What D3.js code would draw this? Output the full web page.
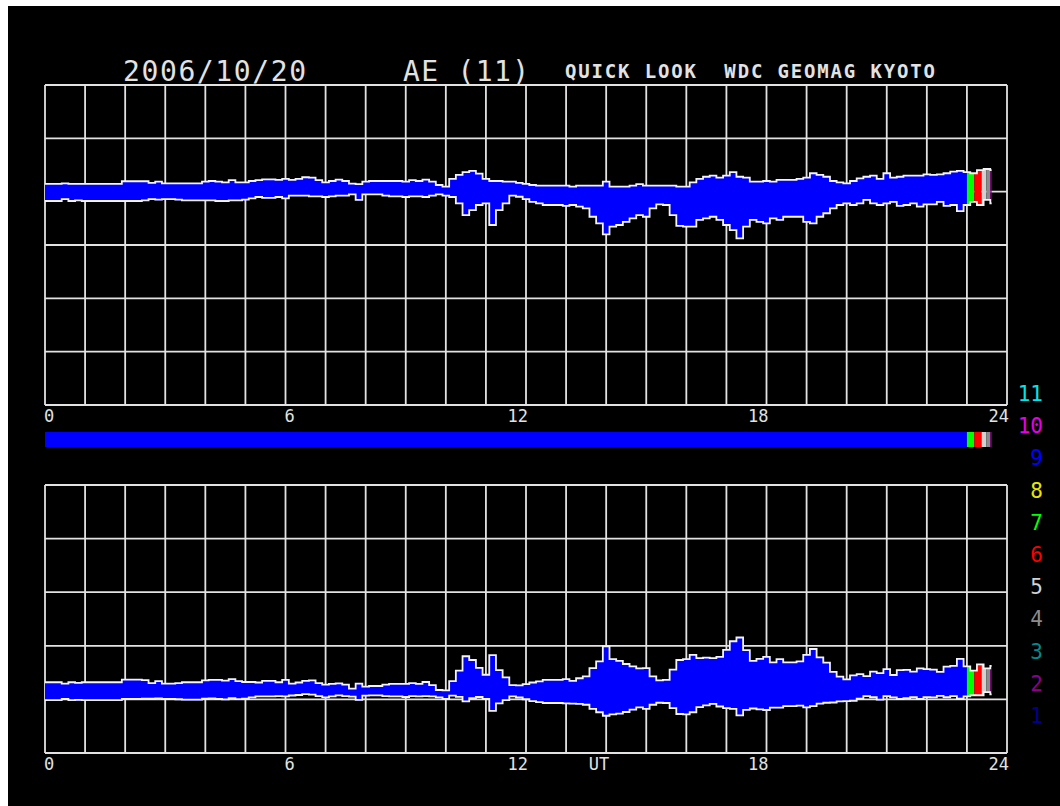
<!DOCTYPE html>
<html>
<head>
<meta charset="utf-8">
<script src="https://cdn.jsdelivr.net/npm/d3@7"></script>
<style>
  html, body { margin: 0; padding: 0; background: #fff; }
  svg { display: block; }
</style>
</head>
<body>
<svg id="chart" width="1060" height="806"></svg>
<script>
// AU / AL provisional values, 10-minute samples from 00:00 UT (nT)
const stepMinutes = 10;
const auValues = [
  29,29,29,31,29,29,  29,29,29,29,29,29,  39,39,39,39,33,38,  31,31,31,31,31,31,
  38,40,38,35,43,35,  35,40,43,46,46,44,  48,44,48,54,53,43,  35,40,45,40,30,28,
  38,40,40,40,40,40,  38,43,40,45,38,25,  19,48,63,73,78,68,  48,40,40,38,38,33,
  29,25,23,23,23,23,  23,19,23,23,23,23,  38,19,19,19,23,28,  23,23,23,23,23,19,
  19,35,48,56,60,53,  60,73,56,53,38,38,  40,38,44,44,44,48,  53,69,63,56,40,35,
  31,40,50,56,60,48,  69,53,56,60,60,60,  65,63,65,69,75,78,  73,69,81,85,81
];
const alValues = [
  -35,-35,-35,-28,-35,-33,  -35,-35,-35,-35,-35,-35,  -35,-35,-35,-33,-28,-30,  -28,-28,-30,-33,-33,-33,
  -33,-33,-35,-35,-33,-33,  -30,-25,-20,-23,-23,-20,  -25,-15,-15,-15,-18,-18,  -20,-18,-15,-15,-10,-31,
  -10,-10,-10,-15,-18,-18,  -20,-18,-18,-20,-15,-10,  -15,-20,-44,-88,-69,-50,  -44,-125,-69,-44,-15,-19,
  -28,-38,-44,-50,-50,-50,  -53,-50,-56,-63,-94,-119,  -160,-131,-125,-113,-100,-88,  -94,-63,-48,-50,-88,-128,
  -131,-131,-106,-100,-94,-106,  -125,-144,-175,-131,-106,-113,  -119,-100,-106,-94,-94,-94,  -113,-119,-94,-81,-63,-50,
  -44,-50,-44,-31,-44,-50,  -44,-38,-53,-50,-44,-56,  -48,-48,-38,-53,-50,-73,  -50,-38,-50,-31,-44
];

// Number of contributing stations over the day (minutes UT)
const coverageStart = [0, 1380, 1391, 1402, 1409, 1415];
const coverageEnd   = [1380, 1391, 1402, 1409, 1415, 1417];
const coverageCount = [9, 7, 6, 5, 4, 2];

// Station-count colour key, counts 1..11
const legendCounts = [11, 10, 9, 8, 7, 6, 5, 4, 3, 2, 1];
const countColors = ["#00008c", "#8c008c", "#008c8c", "#8c8c8c", "#d2d2d2",
                     "#ff0000", "#00ff00", "#e6e600", "#0000ff", "#e600e6", "#00e6e6"];

const hourTicks = [0, 6, 12, 18, 24];
const titleDate = "2006/10/20";
const titleIndex = "AE (11)";
const titleSource = "QUICK LOOK  WDC GEOMAG KYOTO";

// Derived indices: AE = AU - AL, AO = (AU + AL) / 2
const samples = auValues.map((au, i) => ({
  t: i * stepMinutes,
  au: au,
  al: alValues[i],
  ae: au - alValues[i],
  ao: (au + alValues[i]) / 2
}));

const svg = d3.select("#chart");
const mono = "'DejaVu Sans Mono', 'Liberation Mono', monospace";
const ink = "#e2e2e2";

svg.append("rect").attr("width", 1060).attr("height", 806).attr("fill", "#fff");
svg.append("rect").attr("x", 8).attr("y", 6).attr("width", 1052).attr("height", 800).attr("fill", "#000");

const x = d3.scaleLinear().domain([0, 1440]).range([45, 1007]);
const yTop = d3.scaleLinear().domain([-800, 400]).range([405, 85]);
const yBot = d3.scaleLinear().domain([-200, 800]).range([753, 485]);

const dataEnd = coverageEnd[coverageEnd.length - 1];
const defs = svg.append("defs");
coverageStart.forEach((s, i) => {
  defs.append("clipPath").attr("id", "cov" + i)
    .append("rect")
    .attr("x", x(s)).attr("y", 0)
    .attr("width", x(coverageEnd[i]) - x(s)).attr("height", 806);
});
defs.append("clipPath").attr("id", "covAll")
  .append("rect").attr("x", x(0) - 2).attr("y", 0)
  .attr("width", x(dataEnd) - x(0) + 2).attr("height", 806);

const curve = d3.curveStep;

function drawPanel(y, lowKey, highKey) {
  const [d0, d1] = y.domain();
  const g = svg.append("g");
  // grid
  g.selectAll("line.v").data(d3.range(0, 1441, 60)).join("line")
    .attr("x1", d => x(d)).attr("x2", d => x(d))
    .attr("y1", y(d1)).attr("y2", y(d0))
    .attr("stroke", ink).attr("stroke-width", 1.8);
  g.selectAll("line.h").data(d3.range(d0, d1 + 1, 200)).join("line")
    .attr("x1", x(0)).attr("x2", x(1440))
    .attr("y1", d => y(d)).attr("y2", d => y(d))
    .attr("stroke", ink).attr("stroke-width", 1.8);

  const area = d3.area().curve(curve).x(d => x(d.t)).y0(d => y(d[lowKey])).y1(d => y(d[highKey]));
  coverageStart.forEach((s, i) => {
    g.append("path").datum(samples)
      .attr("clip-path", `url(#cov${i})`)
      .attr("d", area)
      .attr("fill", countColors[coverageCount[i] - 1]);
  });
  [lowKey, highKey].forEach(k => {
    g.append("path").datum(samples)
      .attr("clip-path", "url(#covAll)")
      .attr("d", d3.line().curve(curve).x(d => x(d.t)).y(d => y(d[k])))
      .attr("fill", "none").attr("stroke", "#f4f4f4").attr("stroke-width", 1.8);
  });

  // hour labels
  g.selectAll("text.hr").data(hourTicks).join("text")
    .attr("x", d => d < 10 ? x(d * 60) - 1 : x(d * 60) + 2)
    .attr("y", y(d0) + 17)
    .attr("text-anchor", d => d < 10 ? "start" : "end")
    .attr("font-family", mono).attr("font-size", 17)
    .attr("fill", ink)
    .text(d => d);
  return g;
}

drawPanel(yTop, "al", "au");
const bottom = drawPanel(yBot, "ao", "ae");
bottom.append("text")
  .attr("x", x(14 * 60) + 3).attr("y", yBot(-200) + 17)
  .attr("text-anchor", "end")
  .attr("font-family", mono).attr("font-size", 17).attr("fill", ink)
  .text("UT");

// station coverage strip
svg.append("g").selectAll("rect").data(coverageStart).join("rect")
  .attr("x", d => x(d))
  .attr("width", (d, i) => x(coverageEnd[i]) - x(d))
  .attr("y", 432).attr("height", 15)
  .attr("fill", (d, i) => countColors[coverageCount[i] - 1]);

// colour key
svg.append("g").selectAll("text").data(legendCounts).join("text")
  .attr("x", 1043)
  .attr("y", (d, i) => 401 + i * 32.2)
  .attr("text-anchor", "end")
  .attr("font-family", mono).attr("font-size", 21)
  .attr("fill", d => countColors[d - 1])
  .text(d => d);

// title
svg.append("text").attr("x", 123).attr("y", 81)
  .attr("font-family", mono).attr("font-size", 28).attr("fill", ink)
  .attr("textLength", 183).attr("lengthAdjust", "spacing")
  .text(titleDate);
svg.append("text").attr("x", 403).attr("y", 81)
  .attr("font-family", mono).attr("font-size", 28).attr("fill", ink)
  .attr("xml:space", "preserve")
  .attr("textLength", 126).attr("lengthAdjust", "spacing")
  .text(titleIndex);
svg.append("text").attr("x", 565).attr("y", 78)
  .attr("font-family", mono).attr("font-size", 19).attr("font-weight", "bold").attr("fill", ink)
  .attr("xml:space", "preserve")
  .attr("textLength", 370).attr("lengthAdjust", "spacing")
  .text(titleSource);
</script>
</body>
</html>
